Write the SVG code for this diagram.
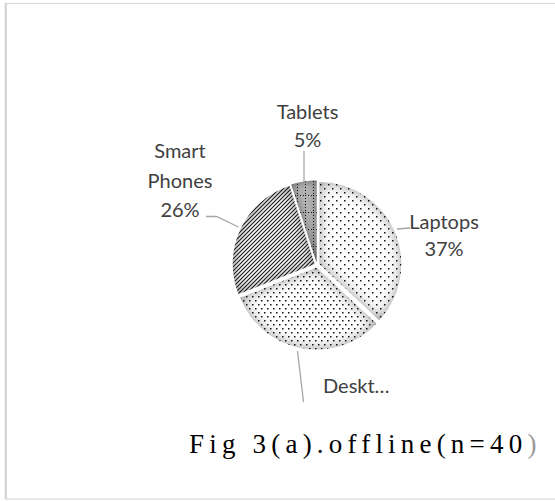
<svg xmlns="http://www.w3.org/2000/svg" xmlns:xlink="http://www.w3.org/1999/xlink" width="555" height="501" viewBox="0 0 555 501">
<style>
.lbl{font-family:Lato,"Open Sans","Liberation Sans",sans-serif;font-size:20px;fill:#404040;text-anchor:middle}
.lead{fill:none;stroke:#a6a6a6;stroke-width:1.3}
.title{font-family:"Liberation Serif","Times New Roman",serif;font-size:27px;fill:#000;letter-spacing:5.2px}
</style>
<defs>
<filter id="shade" x="-20%" y="-20%" width="140%" height="140%">
<feGaussianBlur in="SourceAlpha" stdDeviation="7" result="b"/>
<feComposite in="SourceAlpha" in2="b" operator="out" result="edge"/>
<feFlood flood-color="#7a7a7a"/>
<feComposite in2="edge" operator="in" result="sh"/>
<feMerge><feMergeNode in="SourceGraphic"/><feMergeNode in="sh"/></feMerge>
</filter>
<filter id="shadeDark" x="-20%" y="-20%" width="140%" height="140%">
<feGaussianBlur in="SourceAlpha" stdDeviation="5" result="b"/>
<feComposite in="SourceAlpha" in2="b" operator="out" result="edge"/>
<feFlood flood-color="#505050"/>
<feComposite in2="edge" operator="in" result="sh"/>
<feMerge><feMergeNode in="SourceGraphic"/><feMergeNode in="sh"/></feMerge>
</filter>
<pattern id="dotsSparse" width="8" height="8" patternUnits="userSpaceOnUse">
<rect x="0" y="0" width="1.5" height="1.5" fill="#111"/>
<rect x="4" y="4" width="1.5" height="1.5" fill="#111"/>
</pattern>
<pattern id="dotsDense" width="6" height="8" patternUnits="userSpaceOnUse">
<rect x="0" y="0" width="1.5" height="1.5" fill="#111"/>
<rect x="3" y="4" width="1.5" height="1.5" fill="#111"/>
</pattern>
<pattern id="stripes" width="4" height="4" patternUnits="userSpaceOnUse">
<path d="M-1,1 L1,-1 M0,4 L4,0 M3,5 L5,3" stroke="#1a1a1a" stroke-width="1.1"/>
</pattern>
<pattern id="grid" x="305" y="195" width="8" height="17" patternUnits="userSpaceOnUse">
<path d="M0.5,0 V17" stroke="#111" stroke-width="1" stroke-dasharray="1 2"/>
<path d="M0,0.5 H8" stroke="#111" stroke-width="1" stroke-dasharray="1 2"/>
</pattern>
<path id="pL" d="M319.29,264.01 L319.29,182.01 A82,82 0 0 1 379.07,320.14 Z"/>
<path id="pD" d="M316.53,267.46 L376.31,323.59 A82,82 0 0 1 240.29,297.64 Z"/>
<path id="pS" d="M314.74,263.94 L238.50,294.12 A82,82 0 0 1 289.40,185.95 Z"/>
<path id="pT" d="M316.61,262.53 L291.27,184.54 A82,82 0 0 1 316.61,180.53 Z"/>
</defs>
<rect width="555" height="501" fill="#fff"/>
<g id="frame">
<rect x="5.5" y="3.5" width="560" height="495.5" fill="none" stroke="#d9d9d9" stroke-width="1.2"/>
<line x1="5.8" y1="3" x2="5.8" y2="499" stroke="#d0d0d0" stroke-width="2"/>
</g>
<g id="laptops">
<use href="#pL" fill="#fff" filter="url(#shade)"/>
<use href="#pL" fill="url(#dotsSparse)"/>
</g>
<g id="desktops">
<use href="#pD" fill="#fff" filter="url(#shade)"/>
<use href="#pD" fill="url(#dotsDense)"/>
</g>
<g id="smartphones">
<use href="#pS" fill="#fafafa" filter="url(#shade)"/>
<use href="#pS" fill="url(#stripes)"/>
</g>
<g id="tablets">
<use href="#pT" fill="#b4b4b4" filter="url(#shadeDark)"/>
<use href="#pT" fill="url(#grid)"/>
</g>
<g id="connectors">
<line class="lead" x1="304" y1="151" x2="304" y2="181.5"/>
<polyline class="lead" points="206,216.5 216.5,216.5 238.5,227"/>
<line class="lead" x1="397" y1="229" x2="410" y2="228"/>
<line class="lead" x1="297.5" y1="351" x2="303.5" y2="402"/>
</g>
<g id="label-tablets">
<text class="lbl" x="307.5" y="118.5">Tablets</text>
<text class="lbl" x="307.5" y="147">5%</text>
</g>
<g id="label-smartphones">
<text class="lbl" x="180" y="158">Smart</text>
<text class="lbl" x="180" y="187.5">Phones</text>
<text class="lbl" x="180" y="216.5">26%</text>
</g>
<g id="label-laptops">
<text class="lbl" x="444" y="229">Laptops</text>
<text class="lbl" x="444" y="256">37%</text>
</g>
<g id="label-desktops">
<text class="lbl" x="323" y="393" style="text-anchor:start">Deskt…</text>
</g>
<g id="title">
<text class="title" x="189" y="453">Fig 3(a).offline(n=40<tspan fill="#9a9a9a">)</tspan></text>
</g>
</svg>
